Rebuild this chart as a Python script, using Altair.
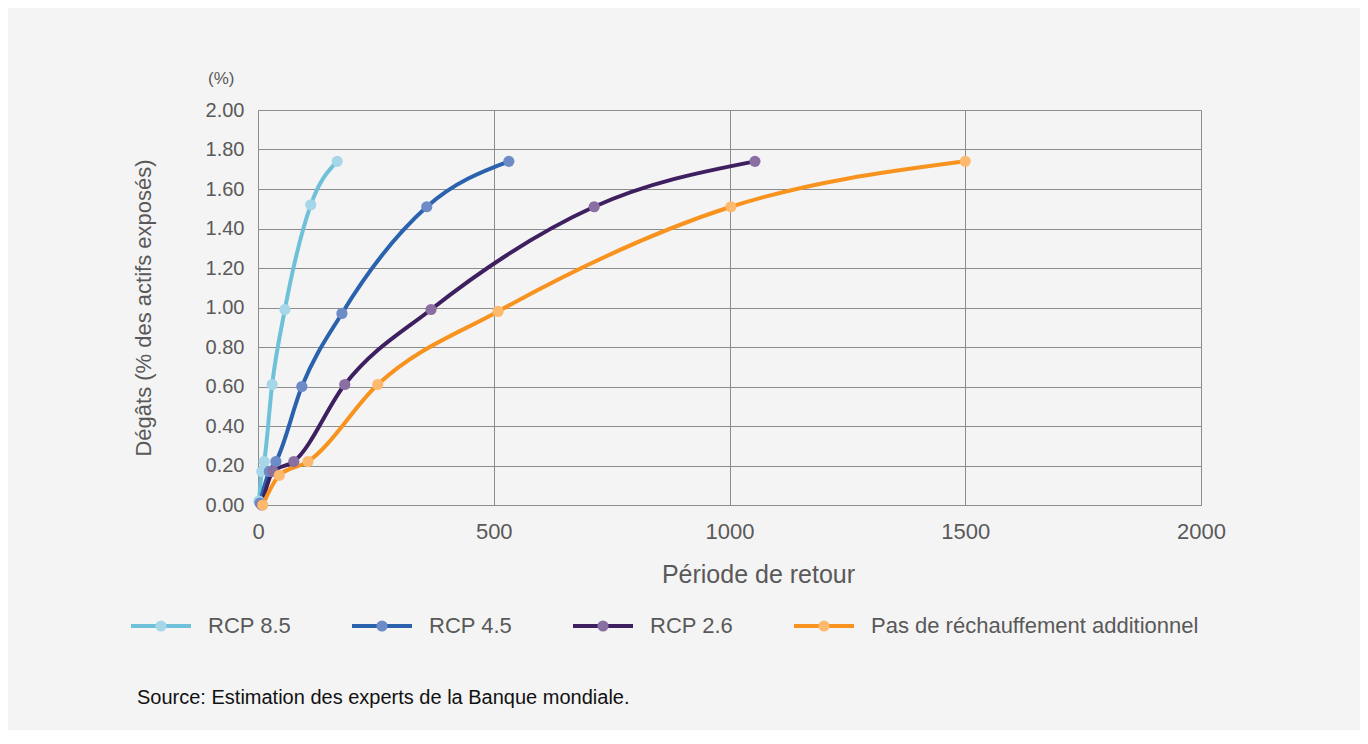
import altair as alt
import pandas as pd

series_names = ["RCP 8.5", "RCP 4.5", "RCP 2.6", "Pas de réchauffement additionnel"]

rcp85_x = [2, 8, 13, 30, 57, 112, 168]
rcp85_y = [0.02, 0.17, 0.22, 0.61, 0.99, 1.52, 1.74]

rcp45_x = [4, 24, 38, 93, 178, 358, 532]
rcp45_y = [0.01, 0.17, 0.22, 0.60, 0.97, 1.51, 1.74]

rcp26_x = [8, 32, 76, 184, 367, 713, 1054]
rcp26_y = [0.0, 0.17, 0.22, 0.61, 0.99, 1.51, 1.74]

base_x = [10, 45, 106, 254, 509, 1003, 1500]
base_y = [0.0, 0.15, 0.22, 0.61, 0.98, 1.51, 1.74]

line_colors = ["#6FC1DA", "#2A62AE", "#3E1F5F", "#F7931E"]
dot_colors = ["#A5D7E8", "#6C8BC7", "#8A70A2", "#FDB96D"]

x_ticks = [0, 500, 1000, 1500, 2000]
y_ticks = [0, 0.2, 0.4, 0.6, 0.8, 1.0, 1.2, 1.4, 1.6, 1.8, 2.0]

source_note = ["Source: Estimation des experts de la Banque mondiale."]

rows = []
for name, xs, ys in zip(series_names,
                        [rcp85_x, rcp45_x, rcp26_x, base_x],
                        [rcp85_y, rcp45_y, rcp26_y, base_y]):
    for xv, yv in zip(xs, ys):
        rows.append({"serie": name, "periode": xv, "degats": yv})
df = pd.DataFrame(rows)

FONT = "Liberation Sans"
GREY = "#595959"

x_enc = alt.X(
    "periode:Q",
    scale=alt.Scale(domain=[0, 2000], nice=False),
    axis=alt.Axis(values=x_ticks, format="d", title="Période de retour", labelFontSize=22,
                  labelFlush=False, titleFontSize=25, labelPadding=16, titlePadding=20,
                  titleX=500, grid=True),
)
y_enc = alt.Y(
    "degats:Q",
    scale=alt.Scale(domain=[0, 2], nice=False),
    axis=alt.Axis(values=y_ticks, format=".2f", title="Dégâts (% des actifs exposés)",
                  labelFontSize=20, titleFontSize=22, labelPadding=14, titlePadding=50,
                  grid=True),
)

common_legend = dict(
    orient="none", legendX=-129, legendY=504, direction="horizontal", columns=4,
    title=None, labelFontSize=22, labelFont=FONT, labelColor=GREY,
    columnPadding=58, clipHeight=24, padding=0, labelLimit=500,
)

lines = alt.Chart(df).mark_line(interpolate="monotone", strokeWidth=4).encode(
    x=x_enc,
    y=y_enc,
    color=alt.Color(
        "serie:N",
        sort=series_names,
        scale=alt.Scale(domain=series_names, range=line_colors),
        legend=alt.Legend(symbolType="stroke", symbolSize=3600, symbolStrokeWidth=4,
                          labelOffset=15, **common_legend),
    ),
)

points = alt.Chart(df).mark_circle(size=125, opacity=1).encode(
    x=x_enc,
    y=y_enc,
    fill=alt.Fill(
        "serie:N",
        sort=series_names,
        scale=alt.Scale(domain=series_names, range=dot_colors),
        legend=alt.Legend(symbolType="circle", symbolSize=125, symbolStrokeWidth=0,
                          symbolOpacity=1, symbolOffset=21, labelOffset=36,
                          labelOpacity=0, **common_legend),
    ),
)

note = alt.Chart(pd.DataFrame({"t": source_note})).mark_text(
    align="left", baseline="middle", fontSize=20, font=FONT, color="#111111"
).encode(x=alt.value(-121), y=alt.value(588), text="t:N")

chart = alt.layer(lines, points, note).resolve_scale(color="independent", fill="independent").properties(
    width=943,
    height=395,
    autosize=alt.AutoSizeParams(type="none"),
    padding={"left": 250, "top": 102, "right": 159, "bottom": 225},
    background="#F4F4F4",
    title=alt.TitleParams("(%)", anchor="start", frame="group", dx=-50, fontSize=17,
                          color=GREY, font=FONT, fontWeight="normal", offset=12),
).configure_view(stroke=None, fill="#F4F4F4").configure_axis(
    labelFont=FONT, titleFont=FONT, labelColor=GREY, titleColor=GREY,
    titleFontWeight="normal", ticks=False, domainColor="#8C8C8C", gridColor="#8C8C8C",
    gridWidth=1, domainWidth=1,
)

chart.save("out.html", embed_options={"renderer": "svg", "actions": False})
